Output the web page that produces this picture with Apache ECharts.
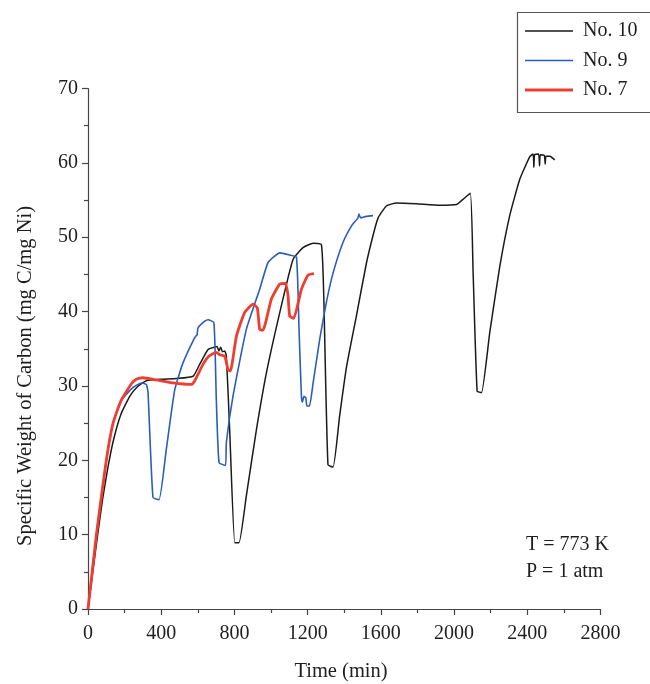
<!DOCTYPE html>
<html>
<head>
<meta charset="utf-8">
<script src="https://cdn.jsdelivr.net/npm/echarts@6/dist/echarts.min.js"></script>
<style>
html,body{margin:0;padding:0;background:#fff;}
#chart{width:650px;height:684px;}
</style>
</head>
<body>
<div id="chart"></div>
<script>
// Time (min) vs specific weight of carbon (mg C/mg Ni)
var seriesNames = ['No. 10', 'No. 9', 'No. 7'];

var no10 = [
  [0,0],[20,3.8],[50,9.5],[80,14.8],[110,19.2],[140,22.8],[180,26.2],[228,28.6],[270,29.9],
  [319,30.7],[400,30.9],[483,31.0],[574,31.3],[610,32.9],[656,34.9],[690,35.2],[705,35.3],
  [715,34.7],[725,35.2],[735,34.6],[747,34.7],[756,34.0],[774,24.1],[802,8.9],[825,8.9],
  [865,15.2],[920,24.1],[975,31.8],[1048,39.9],[1120,47.0],[1175,48.6],[1230,49.2],
  [1275,49.0],[1288,42.1],[1311,19.4],[1339,19.1],[1375,26.0],[1412,32.5],[1467,39.5],
  [1521,46.5],[1560,50.5],[1585,52.6],[1630,54.2],[1685,54.6],[1794,54.5],[1922,54.3],
  [2013,54.4],[2049,55.1],[2089,55.9],[2104,45.3],[2126,29.3],[2150,29.1],[2195,37.2],
  [2250,46.1],[2304,52.9],[2359,57.8],[2413,60.8],[2432,61.2],[2436,59.4],[2440,61.1],
  [2462,61.2],[2467,59.6],[2471,61.1],[2493,61.0],[2498,59.8],[2502,60.9],[2525,60.9],
  [2540,60.6],[2550,60.4]
];

var no9 = [
  [0,0],[46,10],[100,20],[137,25],[180,28],[246,29.8],[292,30.4],[319,30.2],[328,29.1],
  [355,15.0],[388,14.7],[428,21.5],[474,29.5],[519,33.1],[583,36.5],[596,36.9],[601,37.8],
  [638,38.7],[656,38.9],[688,38.5],[701,28.2],[716,19.7],[751,19.3],[756,22.4],[792,28.6],
  [865,37.6],[938,43.0],[984,46.6],[1048,47.9],[1102,47.6],[1139,47.3],[1153,37.6],
  [1166,28.6],[1171,27.8],[1180,28.6],[1190,28.4],[1196,27.3],[1210,27.3],[1230,30.4],
  [1266,36.3],[1302,41.2],[1339,45.2],[1393,49.3],[1439,51.5],[1475,52.6],[1480,53.1],
  [1490,52.6],[1520,52.8],[1557,52.9]
];

var no7 = [
  [0,0],[46,10],[100,20],[137,25],[180,28],[237,30.3],[264,30.9],[300,31.1],[374,30.8],
  [465,30.4],[565,30.2],[583,30.7],[628,32.9],[660,34.0],[701,34.5],[720,34.2],[747,34.0],
  [765,32.2],[778,32.0],[811,36.7],[856,39.9],[902,41.0],[925,40.5],[938,37.6],[956,37.5],
  [1002,41.7],[1048,43.7],[1080,43.8],[1093,42.1],[1102,39.4],[1124,39.1],[1166,43.0],
  [1202,44.9],[1235,45.1]
];

var xTicks = [0, 400, 800, 1200, 1600, 2000, 2400, 2800];
var yTicks = [0, 10, 20, 30, 40, 50, 60, 70];
var noteLines = ['T = 773 K', 'P = 1 atm'];
var xTitle = 'Time (min)';
var yTitle = 'Specific Weight of Carbon (mg C/mg Ni)';

var FONT = '"Liberation Serif", "DejaVu Serif", serif';
var TXT = '#1e1e1e';
var AX = '#444444';
var COLORS = ['#1a1a1a', '#2d5db8', '#ee3e32'];
var WIDTHS = [1.5, 1.6, 2.8];

var chart = echarts.init(document.getElementById('chart'), null, {renderer: 'canvas'});

function plain(v) { return String(v); }

var option = {
  backgroundColor: '#ffffff',
  animation: false,
  grid: {left: 88, right: 49.5, top: 88.5, bottom: 75, containLabel: false},
  xAxis: {
    type: 'value',
    min: xTicks[0], max: xTicks[xTicks.length - 1], interval: 400,
    axisLine: {show: true, lineStyle: {color: AX, width: 1.2}},
    axisTick: {show: true, inside: false, length: 6, lineStyle: {color: AX, width: 1.2}},
    minorTick: {show: true, splitNumber: 2, length: 4, lineStyle: {color: AX, width: 1.2}},
    splitLine: {show: false},
    axisLabel: {margin: 15, color: TXT, fontFamily: FONT, fontSize: 20, formatter: plain}
  },
  yAxis: {
    type: 'value',
    min: yTicks[0], max: yTicks[yTicks.length - 1], interval: 10,
    axisLine: {show: true, lineStyle: {color: AX, width: 1.2}},
    axisTick: {show: true, inside: false, length: 6, lineStyle: {color: AX, width: 1.2}},
    minorTick: {show: true, splitNumber: 2, length: 4, lineStyle: {color: AX, width: 1.2}},
    splitLine: {show: false},
    axisLabel: {margin: 10, color: TXT, fontFamily: FONT, fontSize: 20, formatter: plain}
  },
  legend: {
    data: [
      {name: seriesNames[0], icon: 'path://M0,0H48V1.5H0Z'},
      {name: seriesNames[1], icon: 'path://M0,0H48V1.6H0Z'},
      {name: seriesNames[2], icon: 'path://M0,0H48V2.8H0Z'}
    ],
    orient: 'vertical',
    left: 525, top: 21,
    itemWidth: 48, itemHeight: 20, itemGap: 9.5,
    padding: 0,
    textStyle: {color: TXT, fontFamily: FONT, fontSize: 20, padding: [0, 0, 0, 5]}
  },
  graphic: [
    {type: 'rect', left: 515, top: 10, shape: {width: 150, height: 100},
     style: {fill: 'none', stroke: '#555', lineWidth: 1.2}, silent: true},
    {type: 'text', x: 526, y: 545, style: {text: noteLines[0], font: '20px ' + FONT, fill: TXT, verticalAlign: 'middle'}},
    {type: 'text', x: 526, y: 572, style: {text: noteLines[1], font: '20px ' + FONT, fill: TXT, verticalAlign: 'middle'}},
    {type: 'text', x: 341, y: 672, style: {text: xTitle, font: '20.5px ' + FONT, fill: TXT, align: 'center', verticalAlign: 'middle'}},
    {type: 'text', x: 26, y: 376, rotation: Math.PI / 2, style: {text: yTitle, font: '20.5px ' + FONT, fill: TXT, align: 'center', verticalAlign: 'middle'}}
  ],
  series: [
    {name: seriesNames[0], type: 'line', data: no10, symbol: 'none', smooth: 0.15,
     lineStyle: {color: COLORS[0], width: WIDTHS[0]}, itemStyle: {color: COLORS[0]}, z: 3},
    {name: seriesNames[1], type: 'line', data: no9, symbol: 'none', smooth: 0.15,
     lineStyle: {color: COLORS[1], width: WIDTHS[1]}, itemStyle: {color: COLORS[1]}, z: 4},
    {name: seriesNames[2], type: 'line', data: no7, symbol: 'none', smooth: 0.15,
     lineStyle: {color: COLORS[2], width: WIDTHS[2]}, itemStyle: {color: COLORS[2]}, z: 5}
  ]
};
chart.setOption(option);
</script>
</body>
</html>
